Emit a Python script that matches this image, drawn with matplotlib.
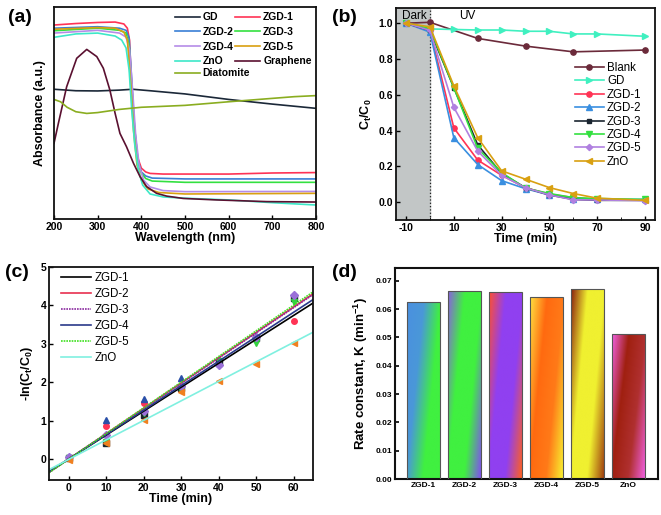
import numpy as np
import matplotlib
matplotlib.use("Agg")
import matplotlib.pyplot as plt
from matplotlib.colors import LinearSegmentedColormap
from matplotlib.patches import Rectangle

plt.rcParams['font.family'] = ['Liberation Sans', 'DejaVu Sans']
plt.rcParams['mathtext.fontset'] = 'custom'
plt.rcParams['mathtext.rm'] = 'Liberation Sans'
plt.rcParams['mathtext.bf'] = 'Liberation Sans:bold'
plt.rcParams['mathtext.default'] = 'regular'
plt.rcParams['axes.unicode_minus'] = False

# ---------------- (a) UV-vis spectra (arbitrary units) ----------------
wl_zgd = [200, 250, 300, 340, 360, 368, 373, 377, 382, 390, 400, 410, 420, 450, 600, 700, 800]
abs_zgd1 = [0.915, 0.922, 0.927, 0.929, 0.920, 0.900, 0.844, 0.656, 0.467, 0.300, 0.240, 0.222, 0.215, 0.212, 0.212, 0.217, 0.219]

wl_zgd2 = [200, 300, 350, 365, 372, 378, 384, 392, 400, 410, 425, 500, 800]
abs_zgd2 = [0.900, 0.907, 0.900, 0.890, 0.854, 0.656, 0.443, 0.278, 0.222, 0.203, 0.193, 0.189, 0.189]

wl_zgd3 = [200, 300, 350, 365, 372, 378, 385, 393, 400, 410, 425, 500, 800]
abs_zgd3 = [0.888, 0.900, 0.890, 0.877, 0.820, 0.632, 0.420, 0.264, 0.217, 0.191, 0.179, 0.173, 0.173]

wl_zgd4 = [200, 300, 350, 365, 373, 380, 387, 395, 405, 420, 450, 500, 800]
abs_zgd4 = [0.877, 0.890, 0.877, 0.858, 0.797, 0.608, 0.396, 0.255, 0.184, 0.151, 0.134, 0.129, 0.130]

wl_zgd5 = [200, 300, 340, 360, 368, 375, 382, 390, 400, 415, 440, 500, 800]
abs_zgd5 = [0.895, 0.903, 0.900, 0.882, 0.844, 0.656, 0.420, 0.255, 0.184, 0.142, 0.125, 0.118, 0.121]

wl_zno = [200, 250, 300, 340, 355, 365, 372, 378, 385, 393, 403, 420, 450, 500, 600, 700, 800]
abs_zno = [0.857, 0.873, 0.877, 0.863, 0.844, 0.807, 0.703, 0.514, 0.349, 0.231, 0.160, 0.118, 0.104, 0.098, 0.090, 0.077, 0.066]

wl_gr = [200, 210, 229, 252, 275, 298, 313, 328, 340, 351, 366, 382, 397, 412, 435, 458, 496, 572, 687, 800]
abs_gr = [0.357, 0.451, 0.624, 0.758, 0.800, 0.766, 0.711, 0.608, 0.498, 0.404, 0.341, 0.263, 0.200, 0.153, 0.121, 0.108, 0.097, 0.090, 0.082, 0.080]

wl_gd = [200, 250, 300, 350, 380, 420, 500, 600, 700, 800]
abs_gd = [0.612, 0.605, 0.604, 0.608, 0.612, 0.605, 0.590, 0.564, 0.542, 0.522]

wl_dia = [200, 215, 230, 250, 275, 300, 350, 400, 500, 600, 650, 700, 750, 800]
abs_dia = [0.564, 0.553, 0.527, 0.506, 0.498, 0.502, 0.517, 0.527, 0.536, 0.553, 0.561, 0.569, 0.577, 0.582]

# ---------------- (b) degradation curves ----------------
t_deg = [-10, 0, 10, 20, 30, 40, 50, 60, 70, 90]
t_blank = [-10, 0, 20, 40, 60, 90]
c_blank = [1.0, 1.005, 0.915, 0.872, 0.840, 0.850]
c_gd = [1.0, 0.968, 0.965, 0.962, 0.962, 0.955, 0.955, 0.940, 0.940, 0.927]
c_zgd1 = [1.0, 0.96, 0.415, 0.235, 0.150, 0.080, 0.045, 0.025, 0.015, 0.010]
c_zgd2 = [1.0, 0.95, 0.360, 0.210, 0.120, 0.075, 0.040, 0.020, 0.015, 0.015]
c_zgd3 = [1.0, 0.96, 0.640, 0.320, 0.160, 0.080, 0.040, 0.015, 0.010, 0.010]
c_zgd4 = [1.0, 0.97, 0.640, 0.300, 0.165, 0.078, 0.048, 0.025, 0.020, 0.015]
c_zgd5 = [1.0, 0.96, 0.530, 0.285, 0.150, 0.080, 0.040, 0.013, 0.012, 0.008]
c_zno = [1.0, 0.98, 0.650, 0.360, 0.175, 0.128, 0.081, 0.048, 0.022, 0.010]

# ---------------- (c) kinetics ----------------
t_kin = [0, 10, 20, 30, 40, 50, 60]
k_zgd1 = [0.02, 0.87, 1.45, 1.88, 2.52, 3.15, 3.60]
k_zgd2 = [0.05, 1.02, 1.55, 2.12, 2.50, 3.20, 4.25]
k_zgd3 = [0.03, 0.42, 1.15, 1.85, 2.52, 3.15, 4.20]
k_zgd4 = [0.02, 0.43, 1.20, 1.80, 2.55, 3.02, 4.08]
k_zgd5 = [0.04, 0.62, 1.25, 1.90, 2.45, 3.18, 4.28]
k_zno = [-0.03, 0.42, 1.02, 1.75, 2.02, 2.48, 3.02]
fit_t = [-5.3, 65.2]
fit_zgd1 = [-0.33, 4.06]
fit_zgd2 = [-0.35, 4.30]
fit_zgd3 = [-0.35, 4.28]
fit_zgd4 = [-0.34, 4.15]
fit_zgd5 = [-0.36, 4.35]
fit_zno = [-0.28, 3.30]

# ---------------- (d) rate constants ----------------
samples = ['ZGD-1', 'ZGD-2', 'ZGD-3', 'ZGD-4', 'ZGD-5', 'ZnO']
rate_k = [0.0626, 0.0665, 0.0661, 0.0641, 0.0672, 0.0511]

fig = plt.figure(figsize=(6.61, 5.15), dpi=100)

def style_axes(ax, lw=1.3):
    for s in ax.spines.values():
        s.set_linewidth(lw)
        s.set_color('#111111')
    ax.tick_params(direction='in', length=3, width=1, labelsize=7.5, pad=2)
    for lab in ax.get_xticklabels() + ax.get_yticklabels():
        lab.set_fontweight('bold')

# ---- panel a
axa = fig.add_axes([54/661, 1-219/515, 262/661, 212/515])
h_gd, = axa.plot(wl_gd, abs_gd, color='#1b2838', lw=1.2, label='GD')
h_z1, = axa.plot(wl_zgd, abs_zgd1, color='#ff3355', lw=1.2, label='ZGD-1')
h_z2, = axa.plot(wl_zgd2, abs_zgd2, color='#3a7fd5', lw=1.2, label='ZGD-2')
h_z3, = axa.plot(wl_zgd3, abs_zgd3, color='#33e040', lw=1.2, label='ZGD-3')
h_z4, = axa.plot(wl_zgd4, abs_zgd4, color='#b58ce8', lw=1.2, label='ZGD-4')
h_z5, = axa.plot(wl_zgd5, abs_zgd5, color='#d9a011', lw=1.2, label='ZGD-5')
h_zn, = axa.plot(wl_zno, abs_zno, color='#3de8c8', lw=1.2, label='ZnO')
h_gr, = axa.plot(wl_gr, abs_gr, color='#5a1030', lw=1.2, label='Graphene')
h_di, = axa.plot(wl_dia, abs_dia, color='#8aad20', lw=1.2, label='Diatomite')
axa.set_xlim(200, 800)
axa.set_ylim(0, 1)
axa.set_yticks([])
axa.set_xticks([200, 300, 400, 500, 600, 700, 800])
style_axes(axa)
axa.set_xlabel('Wavelength (nm)', fontsize=9, fontweight='bold', labelpad=0)
axa.set_ylabel('Absorbance (a.u.)', fontsize=9, fontweight='bold', labelpad=6)
# legend filled column-first -> reorder so rows read GD/ZGD-1, ZGD-2/ZGD-3 ...
leg_kw = dict(frameon=False, loc='upper left', borderpad=0, borderaxespad=0,
              handlelength=2.4, handletextpad=0.3, labelspacing=0.45,
              prop={'size': 7.5, 'weight': 'bold'})
leg1 = axa.legend([h_gd, h_z2, h_z4, h_zn, h_z1, h_z3, h_z5, h_gr],
                  ['GD', 'ZGD-2', 'ZGD-4', 'ZnO', 'ZGD-1', 'ZGD-3', 'ZGD-5', 'Graphene'],
                  ncol=2, columnspacing=0.15, bbox_to_anchor=(0.46, 0.975), **leg_kw)
axa.add_artist(leg1)
axa.legend([h_di], ['Diatomite'], bbox_to_anchor=(0.46, 0.975 - 4*14/212), **leg_kw)
fig.text(8/661, 1-22/515, '(a)', fontsize=14, fontweight='bold')

# ---- panel b
axb = fig.add_axes([396/661, 1-220/515, 259/661, 212/515])
axb.axvspan(-14.2, 0, color='#c2c6c6', zorder=0)
axb.axvline(0, color='#222222', ls=':', lw=0.9)
ms = 3.8
axb.plot(t_blank, c_blank, color='#6b2a3a', marker='o', ms=ms, lw=1.2, label='Blank')
axb.plot(t_deg, c_gd, color='#40f0c0', marker='>', ms=ms, lw=1.2, label='GD')
axb.plot(t_deg, c_zgd1, color='#ff3355', marker='o', ms=ms, lw=1.2, label='ZGD-1')
axb.plot(t_deg, c_zgd2, color='#3a8fe0', marker='^', ms=ms, lw=1.2, label='ZGD-2')
axb.plot(t_deg, c_zgd3, color='#1a2530', marker='s', ms=3.2, lw=1.2, label='ZGD-3')
axb.plot(t_deg, c_zgd4, color='#33e040', marker='v', ms=ms, lw=1.2, label='ZGD-4')
axb.plot(t_deg, c_zgd5, color='#b080e0', marker='D', ms=3.2, lw=1.2, label='ZGD-5')
axb.plot(t_deg, c_zno, color='#d9a011', marker='<', ms=ms, lw=1.2, label='ZnO')
axb.set_xlim(-14.2, 94.2)
axb.set_ylim(-0.1, 1.085)
axb.set_xticks([-10, 10, 30, 50, 70, 90])
axb.set_xticks([0, 20, 40, 60, 80], minor=True)
axb.set_yticks([0.0, 0.2, 0.4, 0.6, 0.8, 1.0])
axb.tick_params(which='minor', direction='in', length=2)
style_axes(axb)
axb.text(-6.5, 1.042, 'Dark', fontsize=8.5, ha='center', va='center')
axb.text(15.7, 1.042, 'UV', fontsize=8.5, ha='center', va='center')
axb.set_xlabel('Time (min)', fontsize=9, fontweight='bold', labelpad=0)
axb.set_ylabel(r'C$_\mathbf{t}$/C$_\mathbf{0}$', fontsize=9, fontweight='bold', labelpad=3)
axb.legend(frameon=False, loc='upper left', bbox_to_anchor=(0.69, 0.745),
           borderpad=0, borderaxespad=0, handlelength=2.5, handletextpad=0.3,
           labelspacing=0.12, prop={'size': 8.3})
fig.text(332/661, 1-22/515, '(b)', fontsize=14, fontweight='bold')

# ---- panel c
axc = fig.add_axes([49/661, 1-480/515, 264/661, 213/515])
kin = [(k_zgd1, fit_zgd1, '#000000', '#ff3355', 'o', 'ZGD-1', '-'),
       (k_zgd2, fit_zgd2, '#e8304f', '#2a4fa8', '^', 'ZGD-2', '-'),
       (k_zgd3, fit_zgd3, '#8a2aa0', '#1a2530', 's', 'ZGD-3', (0, (1, 0.6))),
       (k_zgd4, fit_zgd4, '#2a3a8a', '#33d040', 'v', 'ZGD-4', '-'),
       (k_zgd5, fit_zgd5, '#40e020', '#9a70d8', 'D', 'ZGD-5', (0, (1, 0.6))),
       (k_zno, fit_zno, '#80f0e0', '#f08020', '<', 'ZnO', '-')]
for pts, fit, lc, mc, mk, name, ls in kin:
    axc.plot(t_kin, pts, ls='none', marker=mk, color=mc, ms=4)
for pts, fit, lc, mc, mk, name, ls in kin:
    axc.plot(fit_t, fit, color=lc, lw=1.2, ls=ls, label=name)
axc.set_xlim(-5.3, 65.2)
axc.set_ylim(-0.55, 5)
axc.set_xticks([0, 10, 20, 30, 40, 50, 60])
axc.set_yticks([0, 1, 2, 3, 4, 5])
style_axes(axc)
axc.set_xlabel('Time (min)', fontsize=9, fontweight='bold', labelpad=0)
axc.set_ylabel(r'-ln(C$_\mathbf{t}$/C$_\mathbf{0}$)', fontsize=9, fontweight='bold', labelpad=4)
axc.legend(frameon=False, loc='upper left', bbox_to_anchor=(0.047, 0.975),
           borderpad=0, borderaxespad=0, handlelength=2.6, handletextpad=0.3,
           labelspacing=0.35, prop={'size': 8.3})
fig.text(5/661, 1-277/515, '(c)', fontsize=14, fontweight='bold')

# ---- panel d, gradient bars
axd = fig.add_axes([395/661, 1-479/515, 263/661, 211/515])
grad_colors = [['#4a90e0', '#4a98d8', '#40f040', '#40f040'],
               ['#8a60e0', '#40f040', '#40f040', '#8050f0'],
               ['#ff5030', '#9040f0', '#9040f0', '#ff6020'],
               ['#ffe040', '#ff6a10', '#ff7a18', '#f8f030'],
               ['#8b2010', '#f0f030', '#f0f030', '#a04010'],
               ['#f060e0', '#a02010', '#b03030', '#f060e0']]
gx, gy = np.meshgrid(np.linspace(0, 1, 80), np.linspace(0, 1, 200))
grad = gx - 0.55 * gy
bw = 0.79
for i, (name, k) in enumerate(zip(samples, rate_k)):
    cmap = LinearSegmentedColormap.from_list(name, grad_colors[i])
    im = axd.imshow(grad, extent=[i - bw/2, i + bw/2, 0, k], origin='lower',
                    aspect='auto', cmap=cmap, zorder=2, interpolation='bilinear')
    rect = Rectangle((i - bw/2, 0), bw, k, facecolor='none', edgecolor='#555555',
                     lw=0.8, zorder=3)
    axd.add_patch(rect)
    im.set_clip_path(rect)
axd.set_xlim(-0.7, 5.72)
axd.set_ylim(0, 0.0745)
axd.set_xticks(range(len(samples)))
axd.set_xticklabels(samples)
axd.set_yticks([0.0, 0.01, 0.02, 0.03, 0.04, 0.05, 0.06, 0.07])
axd.set_yticklabels(['0.00', '0.01', '0.02', '0.03', '0.04', '0.05', '0.06', '0.07'])
style_axes(axd, lw=1.5)
axd.tick_params(labelsize=6, length=3, width=1.2)
axd.set_ylabel(r'Rate constant, K (min$^{\mathbf{-1}}$)', fontsize=9.5, fontweight='bold', labelpad=4)
fig.text(332/661, 1-277/515, '(d)', fontsize=14, fontweight='bold')

fig.savefig('out.png', dpi=100)
